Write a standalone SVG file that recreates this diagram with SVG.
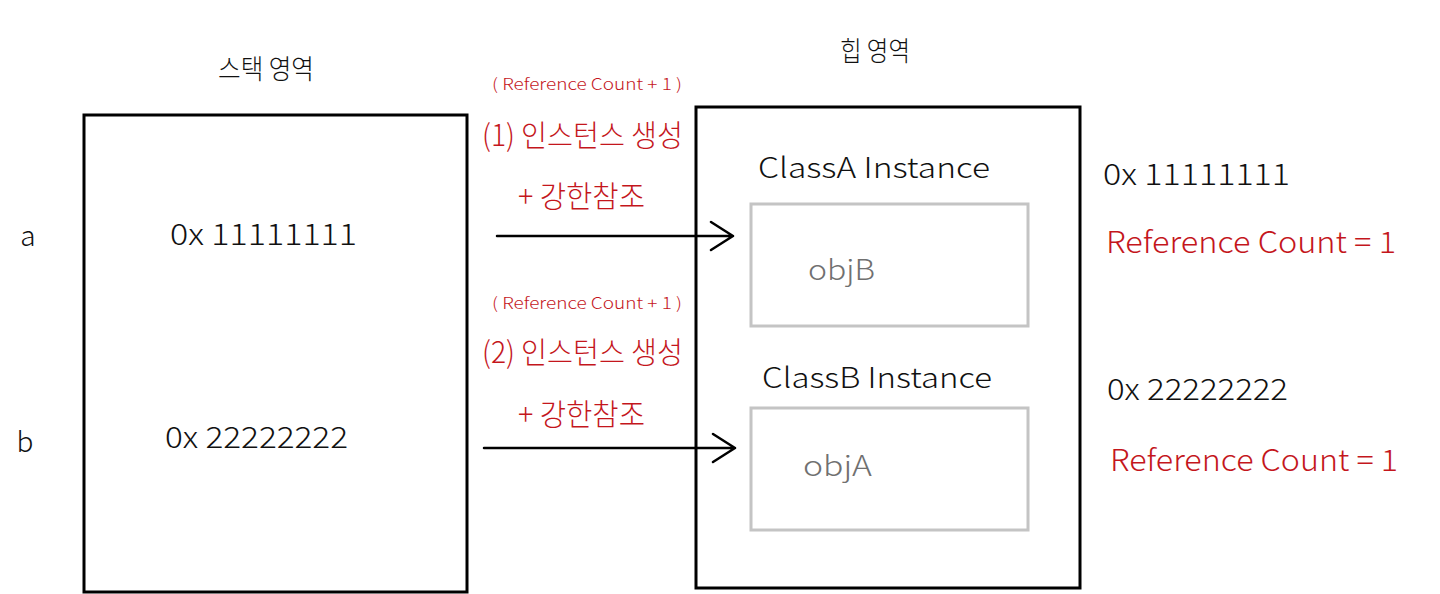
<svg xmlns="http://www.w3.org/2000/svg" width="1440" height="594" viewBox="0 0 1440 594">
<style>
text{font-family:"Noto Sans CJK KR","Noto Sans",sans-serif;font-weight:300}
.blk{fill:#111}
.red{fill:#c4161c}
.gry{fill:#707070}
.box{fill:none;stroke:#000;stroke-width:3}
.gbox{fill:none;stroke:#c4c4c4;stroke-width:3}
.conn{fill:none;stroke:#000;stroke-width:2.5;stroke-linecap:round;stroke-linejoin:round}
</style>
<rect width="1440" height="594" fill="#fff"/>
<g id="stack">
<text class="blk" x="218" y="79" font-size="27" textLength="96" lengthAdjust="spacingAndGlyphs">스택 영역</text>
<rect class="box" x="84" y="115" width="383" height="477"/>
<text class="blk" x="28" y="246" font-size="28" text-anchor="middle">a</text>
<text class="blk" x="25" y="452" font-size="28" text-anchor="middle">b</text>
<text class="blk" x="170" y="245" font-size="29" textLength="187" lengthAdjust="spacingAndGlyphs">0x 11111111</text>
<text class="blk" x="165" y="448" font-size="29" textLength="183" lengthAdjust="spacingAndGlyphs">0x 22222222</text>
</g>
<g id="heap">
<text class="blk" x="840" y="61" font-size="27" textLength="70" lengthAdjust="spacingAndGlyphs">힙 영역</text>
<rect class="box" x="696" y="107" width="384" height="481"/>
</g>
<g id="classA">
<text class="blk" x="758" y="178" font-size="28" textLength="232" lengthAdjust="spacingAndGlyphs">ClassA Instance</text>
<rect class="gbox" x="751" y="204" width="277" height="122"/>
<text class="gry" x="808" y="280" font-size="28" textLength="67" lengthAdjust="spacingAndGlyphs">objB</text>
</g>
<g id="classB">
<text class="blk" x="762" y="388" font-size="28" textLength="230" lengthAdjust="spacingAndGlyphs">ClassB Instance</text>
<rect class="gbox" x="751" y="408" width="277" height="122"/>
<text class="gry" x="803" y="476" font-size="28" textLength="69" lengthAdjust="spacingAndGlyphs">objA</text>
</g>
<g id="infoA">
<text class="blk" x="1103" y="185" font-size="29" textLength="187" lengthAdjust="spacingAndGlyphs">0x 11111111</text>
<text class="red" x="1106" y="253" font-size="30" textLength="290" lengthAdjust="spacingAndGlyphs">Reference Count = 1</text>
</g>
<g id="infoB">
<text class="blk" x="1107" y="400" font-size="29" textLength="181" lengthAdjust="spacingAndGlyphs">0x 22222222</text>
<text class="red" x="1110" y="471" font-size="30" textLength="288" lengthAdjust="spacingAndGlyphs">Reference Count = 1</text>
</g>
<g id="connectors">
<path class="conn" d="M497 236 H733 M711 222 L733 236 L711 250"/>
<path class="conn" d="M484 448 H735 M713 434 L735 448 L713 462"/>
<text class="red" x="492" y="90" font-size="16" textLength="190" lengthAdjust="spacingAndGlyphs">( Reference Count + 1 )</text>
<text class="red" x="482" y="146" font-size="30" textLength="201" lengthAdjust="spacingAndGlyphs">(1) 인스턴스 생성</text>
<text class="red" x="518" y="207" font-size="30" textLength="127" lengthAdjust="spacingAndGlyphs">+ 강한참조</text>
<text class="red" x="492" y="309" font-size="16" textLength="190" lengthAdjust="spacingAndGlyphs">( Reference Count + 1 )</text>
<text class="red" x="482" y="363" font-size="30" textLength="201" lengthAdjust="spacingAndGlyphs">(2) 인스턴스 생성</text>
<text class="red" x="518" y="425" font-size="30" textLength="127" lengthAdjust="spacingAndGlyphs">+ 강한참조</text>
</g>
</svg>
